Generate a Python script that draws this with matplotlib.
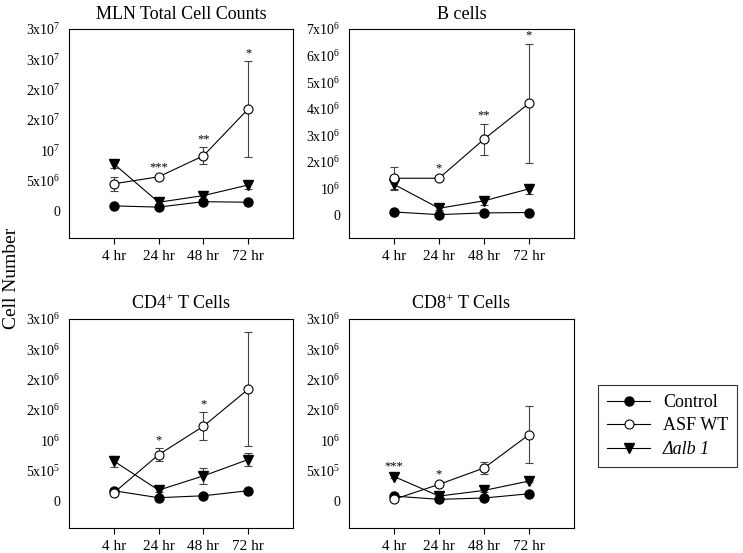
import numpy as np
import matplotlib
matplotlib.use('Agg')
import matplotlib.pyplot as plt
from matplotlib.lines import Line2D

plt.rcParams['font.family'] = ['Liberation Serif', 'DejaVu Serif']
plt.rcParams['mathtext.fontset'] = 'custom'
plt.rcParams['mathtext.rm'] = 'Liberation Serif'
plt.rcParams['mathtext.it'] = 'Liberation Serif:italic'

times = ["4 hr", "24 hr", "48 hr", "72 hr"]

# MLN total cell counts
mln_control = [0.8e6, 0.6e6, 1.5e6, 1.4e6]
mln_asf = [4.45e6, 5.6e6, 9.07e6, 16.8e6]
mln_asf_err = [1.2e6, 0.3e6, 1.4e6, 7.9e6]
mln_dalb = [7.75e6, 1.4e6, 2.5e6, 4.25e6]
mln_dalb_err = [0.7e6, 0.3e6, 0.6e6, 0.6e6]

# B cells
b_control = [0.11e6, 0.01e6, 0.075e6, 0.09e6]
b_asf = [1.38e6, 1.38e6, 2.85e6, 4.2e6]
b_asf_err = [0.42e6, 0.08e6, 0.58e6, 2.25e6]
b_dalb = [1.15e6, 0.25e6, 0.53e6, 0.98e6]
b_dalb_err = [0.2e6, 0.08e6, 0.16e6, 0.2e6]

# CD4+ T cells
cd4_control = [1.65e5, 0.5e5, 0.82e5, 1.65e5]
cd4_asf = [1.3e5, 7.6e5, 12.3e5, 18.4e5]
cd4_asf_err = [0.2e5, 1.1e5, 2.3e5, 9.4e5]
cd4_dalb = [6.55e5, 1.75e5, 4.1e5, 6.8e5]
cd4_dalb_err = [0.9e5, 0.3e5, 1.3e5, 1.1e5]

# CD8+ T cells
cd8_control = [0.77e5, 0.23e5, 0.45e5, 1.15e5]
cd8_asf = [0.23e5, 2.7e5, 5.4e5, 10.9e5]
cd8_asf_err = [0.1e5, 0.3e5, 1.0e5, 4.7e5]
cd8_dalb = [4.0e5, 0.77e5, 1.7e5, 3.25e5]
cd8_dalb_err = [0.3e5, 0.2e5, 0.2e5, 0.2e5]

# significance marks: (series, time index, text)
mln_stars = [("asf", 1, "***"), ("asf", 2, "**"), ("asf", 3, "*")]
b_stars = [("asf", 1, "*"), ("asf", 2, "**"), ("asf", 3, "*")]
cd4_stars = [("asf", 1, "*"), ("asf", 2, "*")]
cd8_stars = [("dalb", 0, "***"), ("asf", 1, "*")]

mln_ticks = [0, 5e6, 1e7, 1.5e7, 2e7, 2.5e7, 3e7]
mln_ticklabels = ["0", "5x10$^{6}$", "10$^{7}$", "2x10$^{7}$", "2x10$^{7}$", "3x10$^{7}$", "3x10$^{7}$"]
b_ticks = [0, 1e6, 2e6, 3e6, 4e6, 5e6, 6e6, 7e6]
b_ticklabels = ["0", "10$^{6}$", "2x10$^{6}$", "3x10$^{6}$", "4x10$^{6}$", "5x10$^{6}$", "6x10$^{6}$", "7x10$^{6}$"]
t_ticks = [0, 5e5, 1e6, 1.5e6, 2e6, 2.5e6, 3e6]
t_ticklabels = ["0", "5x10$^{5}$", "10$^{6}$", "2x10$^{6}$", "2x10$^{6}$", "3x10$^{6}$", "3x10$^{6}$"]

W, H = 743, 553
fig = plt.figure(figsize=(W / 100, H / 100), dpi=100)

def box(l, t, r, b):
    return [l / W, (H - b) / H, (r - l) / W, (b - t) / H]

panels = [
    (box(69, 29, 293, 238), "MLN Total Cell Counts", mln_control, mln_asf, mln_asf_err,
     mln_dalb, mln_dalb_err, mln_stars, mln_ticks, mln_ticklabels, -4.5e6),
    (box(349, 29, 574, 238), "B cells", b_control, b_asf, b_asf_err,
     b_dalb, b_dalb_err, b_stars, b_ticks, b_ticklabels, -0.87e6),
    (box(69, 319, 293, 528), "CD4$^{+}$ T Cells", cd4_control, cd4_asf, cd4_asf_err,
     cd4_dalb, cd4_dalb_err, cd4_stars, t_ticks, t_ticklabels, -4.5e5),
    (box(349, 319, 574, 528), "CD8$^{+}$ T Cells", cd8_control, cd8_asf, cd8_asf_err,
     cd8_dalb, cd8_dalb_err, cd8_stars, t_ticks, t_ticklabels, -4.5e5),
]

x = np.arange(len(times))
ms = 6.5
for rect, title, ctrl, asf, asf_err, dalb, dalb_err, stars, ticks, ticklabels, ymin in panels:
    ax = fig.add_axes(rect)
    ax.errorbar(x, asf, yerr=asf_err, fmt='none', ecolor='#444444', elinewidth=0.8,
                capsize=3, capthick=0.8, zorder=2)
    ax.errorbar(x, dalb, yerr=dalb_err, fmt='none', ecolor='#444444', elinewidth=0.8,
                capsize=3, capthick=0.8, zorder=2)
    ax.plot(x, ctrl, 'k-', marker='o', ms=ms, mfc='black', lw=0.8, zorder=3)
    ax.plot(x, dalb, 'k-', marker='v', ms=ms, mfc='black', lw=0.8, zorder=3)
    ax.plot(x, asf, 'k-', marker='o', ms=ms, mfc='white', mew=0.8, lw=0.8, zorder=4)
    series = {"asf": (asf, asf_err), "dalb": (dalb, dalb_err)}
    for name, i, txt in stars:
        vals, errs = series[name]
        ax.annotate(txt, (x[i], vals[i] + errs[i]), xytext=(0, 1.5),
                    textcoords='offset points', ha='center', va='bottom', fontsize=9)
    ax.set_xlim(-1, 4)
    ax.set_ylim(ymin, ticks[-1])
    ax.set_xticks(x)
    ax.set_xticklabels(times, fontsize=11)
    ax.set_yticks(ticks)
    ax.set_yticklabels(ticklabels, fontsize=10)
    ax.tick_params(axis='x', direction='out', length=4, width=0.8, pad=5)
    ax.tick_params(axis='y', length=0, pad=6)
    for s in ax.spines.values():
        s.set_linewidth(0.8)
    ax.set_title(title, fontsize=13, pad=7)

fig.text(12 / W, 1 - 278 / H, "Cell Number", rotation=90, ha='center', va='center', fontsize=14)

handles = [
    Line2D([], [], color='k', lw=0.8, marker='o', ms=ms, mfc='black'),
    Line2D([], [], color='k', lw=0.8, marker='o', ms=ms, mfc='white', mew=0.8),
    Line2D([], [], color='k', lw=0.8, marker='v', ms=ms, mfc='black'),
]
labels = ["Control", "ASF WT", "\u0394alb 1"]
leg = fig.legend(handles, labels, loc='center',
                 bbox_to_anchor=(596 / W, (H - 472) / H, 143 / W, 92 / H),
                 fontsize=13, frameon=True, fancybox=False, edgecolor='black',
                 handlelength=2.4, handletextpad=0.7, numpoints=1,
                 borderpad=0.5, labelspacing=0.35)
leg.get_frame().set_linewidth(0.8)
leg.get_texts()[2].set_fontstyle('italic')

fig.savefig("out.png", dpi=100)
